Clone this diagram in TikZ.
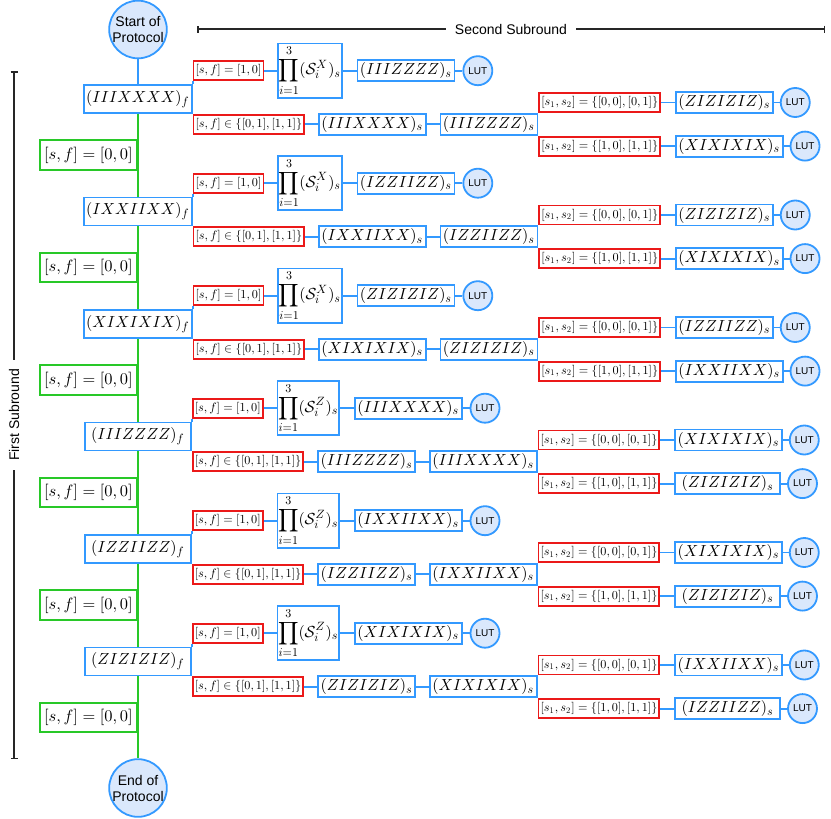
\documentclass[tikz,border=0pt]{standalone}
\usepackage[no-math]{fontspec}
\setsansfont{Liberation Sans}
\DeclareFontShape{OT1}{cmr}{m}{n}{<->cmr10}{}
\DeclareFontShape{OML}{cmm}{m}{it}{<->cmmi10}{}
\DeclareFontShape{OMS}{cmsy}{m}{n}{<->cmsy10}{}
\DeclareFontShape{OMX}{cmex}{m}{n}{<->cmex10}{}
\usepackage{tikz}
\usetikzlibrary{positioning, arrows.meta}

\definecolor{flowblue}{RGB}{51,153,255}
\definecolor{flowred}{RGB}{235,25,25}
\definecolor{flowgreen}{RGB}{40,200,40}
\definecolor{flowfill}{RGB}{218,232,252}

\tikzstyle{endpoint} = [
    circle,
    minimum size=28pt,
    inner sep=0pt,
    align=center,
    draw=flowblue,
    fill=flowfill,
    line width=0.9pt,
    font=\sffamily\fontsize{7}{8}\selectfont
]
\tikzstyle{lut} = [
    circle,
    minimum size=14.5pt,
    inner sep=0pt,
    draw=flowblue,
    fill=flowfill,
    line width=0.9pt,
    font=\sffamily\fontsize{5}{6}\selectfont
]
\tikzstyle{fstate} = [
    rectangle,
    minimum width=53pt,
    minimum height=14pt,
    inner xsep=1pt,
    inner ysep=1pt,
    draw=flowblue,
    fill=white,
    line width=0.9pt,
    font=\fontsize{8}{9}\selectfont
]
\tikzstyle{sstate} = [
    rectangle,
    minimum height=10.5pt,
    inner xsep=1.2pt,
    inner ysep=0.8pt,
    draw=flowblue,
    fill=white,
    line width=0.9pt,
    font=\fontsize{8}{9}\selectfont
]
\tikzstyle{product} = [
    rectangle,
    inner xsep=0.3pt,
    inner ysep=1pt,
    draw=flowblue,
    fill=white,
    line width=0.9pt,
    font=\fontsize{8}{9}\selectfont
]
\tikzstyle{outcome} = [
    rectangle,
    minimum height=9.5pt,
    inner xsep=1pt,
    inner ysep=1.2pt,
    draw=flowred,
    fill=white,
    line width=0.9pt,
    font=\fontsize{6.1}{7}\selectfont
]
\tikzstyle{noclick} = [
    rectangle,
    minimum height=14.5pt,
    inner xsep=2.2pt,
    draw=flowgreen,
    fill=white,
    line width=0.9pt,
    font=\fontsize{8.2}{9}\selectfont
]
\tikzstyle{link} = [draw=flowblue, line width=0.9pt]
\tikzstyle{trunk} = [draw=flowgreen, line width=0.9pt]
\tikzstyle{bracket} = [line width=0.75pt, draw=black!85, {Bar[width=3.5pt]}-{Bar[width=3.5pt]}]

\begin{document}
\begin{tikzpicture}[x=0.5pt, y=-0.5pt]

\useasboundingbox (0,0) rectangle (831,819);

\node (start) [endpoint] at (138,29.5) {Start of\\Protocol};
\node (stop) [endpoint] at (138,788) {End of\\Protocol};

% subround brackets
\coordinate (ssl) at (197,29);
\coordinate (ssr) at (825,29);
\draw [bracket] (ssl) -- (ssr)
    node [midway, fill=white, inner xsep=4.5pt, font=\sffamily\fontsize{7}{8}\selectfont] {Second Subround};
\coordinate (fst) at (14,71);
\coordinate (fsb) at (14,759);
\draw [bracket] (fst) -- (fsb)
    node [midway, fill=white, rotate=90, inner xsep=4.5pt, font=\sffamily\fontsize{7}{8}\selectfont] {First Subround};

\foreach \i/\fstr/\opr/\ustr/\lone/\ltwo/\fina/\finb/\fw [evaluate=\i as \yy using 99+112.5*(\i-1)] in {
    1/IIIXXXX/X/IIIZZZZ/IIIXXXX/IIIZZZZ/ZIZIZIZ/XIXIXIX/0,
    2/IXXIIXX/X/IZZIIZZ/IXXIIXX/IZZIIZZ/ZIZIZIZ/XIXIXIX/0,
    3/XIXIXIX/X/ZIZIZIZ/XIXIXIX/ZIZIZIZ/IZZIIZZ/IXXIIXX/0,
    4/IIIZZZZ/Z/IIIXXXX/IIIZZZZ/IIIXXXX/XIXIXIX/ZIZIZIZ/52.5,
    5/IZZIIZZ/Z/IXXIIXX/IZZIIZZ/IXXIIXX/XIXIXIX/ZIZIZIZ/52.5,
    6/ZIZIZIZ/Z/XIXIXIX/ZIZIZIZ/XIXIXIX/IXXIIXX/IZZIIZZ/52.5} {

\node (f\i) [fstate] at (138,\yy) {$(\fstr)_f$};
\node (g\i) [noclick, anchor=east] at (138,\yy+56) {$[s,f]=[0,0]$};

% first flag measurement
\node (ra\i) [outcome, anchor=south west] at ([yshift=1.5pt]f\i.north east) {$[s,f]=[1,0]$};
\node (p\i) [product, right=6.5pt of ra\i] {$\displaystyle\prod_{i=1}^{3}(\mathcal{S}_i^{\opr})_s$};
\node (u\i) [sstate, right=7pt of p\i] {$(\ustr)_s$};
\node (lu\i) [lut, right=3.5pt of u\i] {LUT};

% second subround
\node (rb\i) [outcome, anchor=north west] at (f\i.south east) {$[s,f]\in\{[0,1],[1,1]\}$};
\node (sa\i) [sstate, right=6.5pt of rb\i] {$(\lone)_s$};
\node (sb\i) [sstate, right=6.5pt of sa\i] {$(\ltwo)_s$};
\node (rc\i) [outcome, anchor=south west] at (sb\i.north east) {$[s_1,s_2]=\{[0,0],[0,1]\}$};
\node (rd\i) [outcome, anchor=north west] at (sb\i.south east) {$[s_1,s_2]=\{[1,0],[1,1]\}$};
\node (fa\i) [sstate, minimum width=\fw pt, right=7pt of rc\i] {$(\fina)_s$};
\node (la\i) [lut, right=3pt of fa\i] {LUT};
\node (fb\i) [sstate, minimum width=\fw pt, right=7pt of rd\i] {$(\finb)_s$};
\node (lb\i) [lut, right=3pt of fb\i] {LUT};

\draw [link] (f\i.north east) -- (ra\i.south west);
\draw [link] (f\i.south east) -- (rb\i.north west);
\draw [link] (ra\i) -- (p\i);
\draw [link] (p\i) -- (u\i);
\draw [link] (u\i) -- (lu\i);
\draw [link] (rb\i) -- (sa\i);
\draw [link] (sa\i) -- (sb\i);
\draw [link] (sb\i.north east) -- (rc\i.south west);
\draw [link] (sb\i.south east) -- (rd\i.north west);
\draw [link] (rc\i) -- (fa\i);
\draw [link] (fa\i) -- (la\i);
\draw [link] (rd\i) -- (fb\i);
\draw [link] (fb\i) -- (lb\i);
}

\draw [link] (start) -- (f1);
\foreach \i/\j in {1/2, 2/3, 3/4, 4/5, 5/6}
    \draw [trunk] (f\i) -- (f\j);
\draw [trunk] (f6) -- (stop);

\end{tikzpicture}
\end{document}
